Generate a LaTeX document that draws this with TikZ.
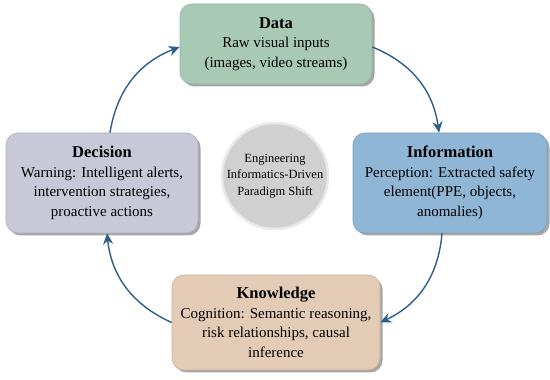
\documentclass[tikz,border=0pt]{standalone}
\usepackage{fontspec}
\setmainfont{Liberation Serif}
\usetikzlibrary{shadows,arrows.meta}
\definecolor{datafill}{HTML}{A9C9B7}
\definecolor{dataline}{HTML}{93B5A2}
\definecolor{decfill}{HTML}{C9C8D9}
\definecolor{decline}{HTML}{B1B0C4}
\definecolor{infofill}{HTML}{90B6D6}
\definecolor{infoline}{HTML}{7AA2C4}
\definecolor{knowfill}{HTML}{E3CBB5}
\definecolor{knowline}{HTML}{CDB39C}
\definecolor{arrowblue}{HTML}{2D5E8C}
\definecolor{circfill}{HTML}{D0D0D0}
\definecolor{circline}{HTML}{E9E9E9}
\newcommand{\boxtitle}[1]{{\fontsize{16.5}{19.5}\selectfont\bfseries #1}}
\tikzset{
  stagebox/.style={rectangle, rounded corners=12pt, line width=0.6pt, align=center,
    font=\fontsize{15}{19.5}\selectfont, inner sep=0pt,
    drop shadow={shadow xshift=2.5pt, shadow yshift=-2.5pt, opacity=0.35, fill=black}},
  cyclearrow/.style={draw=arrowblue, line width=1.4pt, -{Stealth[length=11pt,width=10pt]}, bend left=30},
}
\begin{document}
\begin{tikzpicture}[x=1pt,y=1pt]
\useasboundingbox[fill=white] (0,0) rectangle (550,380);
\node[stagebox, fill=datafill, draw=dataline, minimum width=192pt, minimum height=80pt] (data) at (276,336)
  {\boxtitle{Data}\\Raw visual inputs\\(images, video streams)};
\node[stagebox, fill=decfill, draw=decline, minimum width=192pt, minimum height=100pt] (dec) at (102,197)
  {\boxtitle{Decision}\\Warning: Intelligent alerts,\\intervention strategies,\\proactive actions};
\node[stagebox, fill=infofill, draw=infoline, minimum width=194pt, minimum height=100pt] (info) at (450,197)
  {\boxtitle{Information}\\Perception: Extracted safety\\element(PPE, objects,\\anomalies)};
\node[stagebox, fill=knowfill, draw=knowline, minimum width=208pt, minimum height=95pt] (know) at (276,57.5)
  {\boxtitle{Knowledge}\\Cognition: Semantic reasoning,\\risk relationships, causal\\inference};
\node[circle, fill=circfill, draw=circline, line width=2.5pt, minimum size=100pt, align=center,
  font=\fontsize{12.5}{16.5}\selectfont, inner sep=0pt] (core) at (275,204)
  {Engineering\\Informatics-Driven\\Paradigm Shift};
\draw[cyclearrow] ([xshift=8pt]dec.north) to ([yshift=-3pt]data.west);
\draw[cyclearrow] ([yshift=-3pt]data.east) to ([xshift=-11pt]info.north);
\draw[cyclearrow] ([xshift=-8pt]info.south) to (know.east);
\draw[cyclearrow] (know.west) to ([xshift=5pt]dec.south);
\end{tikzpicture}
\end{document}
